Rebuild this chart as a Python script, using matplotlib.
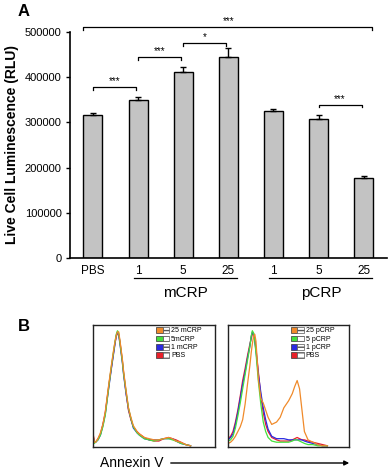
import matplotlib
matplotlib.use("Agg")
import matplotlib.pyplot as plt
from matplotlib.patches import Patch, FancyArrowPatch
from matplotlib.legend_handler import HandlerTuple
import matplotlib.transforms as mtransforms

plt.rcParams['font.family'] = ['Liberation Sans', 'DejaVu Sans']

# Panel A: luminescence bars
tick_labels = ["PBS", "1", "5", "25", "1", "5", "25"]
lum = [317000, 350000, 412000, 445000, 326000, 307000, 176000]
lum_err = [3000, 6000, 10000, 19000, 4000, 10000, 5000]
groups = ["mCRP", "pCRP"]
group_span = [(1, 3), (4, 6)]
# significance brackets: (from bar, to bar, level, label)
brackets = [(0, 1, 378000, "***"), (1, 2, 445000, "***"), (2, 3, 476000, "*"),
            (5, 6, 339000, "***")]
overall = (0, 6, 511000, "***")

# Panel B: Annexin V histograms (percent of box height)
xl = [0, 1, 2, 4, 6, 8, 10, 11, 13, 15, 17, 18, 19, 20, 21, 22, 24, 25, 27, 29,
      31, 33, 36, 38, 42, 46, 50, 54, 58, 62, 65, 68, 72, 76, 80]
left_curves = {
    "PBS": [10, 4, 3, 6, 10, 18, 28, 36, 52, 66, 80, 87, 92, 95, 94, 88, 72, 62, 45, 30,
            22, 16, 12, 10, 7, 5, 4, 4, 6, 7, 6, 5, 3, 1, 0],
    "1 mCRP": [8, 3, 3, 5, 9, 17, 27, 35, 50, 65, 79, 86, 93, 96, 93, 86, 70, 60, 44, 31,
               23, 15, 11, 9, 6, 5, 5, 5, 6, 6, 6, 4, 2, 1, 0],
    "5mCRP": [7, 2, 3, 5, 9, 16, 26, 34, 51, 67, 81, 88, 94, 97, 95, 87, 71, 61, 46, 32,
              23, 16, 11, 9, 6, 5, 4, 5, 6, 6, 5, 4, 2, 1, 0],
    "25 mCRP": [9, 3, 3, 6, 11, 18, 29, 37, 53, 68, 82, 88, 93, 96, 96, 89, 73, 63, 47, 32,
                24, 17, 12, 10, 7, 6, 5, 5, 6, 7, 6, 4, 3, 1, 0],
}
xr = [0, 2, 4, 6, 8, 10, 12, 14, 16, 18, 19, 20, 21, 22, 23, 24, 25, 27, 29, 31,
      33, 36, 40, 43, 46, 50, 53, 55, 57, 59, 61, 63, 66, 70, 74, 78, 82]
right_curves = {
    "PBS": [6, 8, 12, 20, 30, 42, 55, 65, 76, 86, 90, 94, 95, 90, 82, 72, 62, 42, 28, 18,
            12, 7, 5, 4, 4, 4, 5, 6, 7, 6, 5, 5, 4, 3, 2, 1, 0],
    "1 pCRP": [5, 7, 10, 18, 28, 40, 52, 62, 74, 84, 92, 96, 94, 88, 80, 70, 60, 45, 32, 22,
               14, 8, 6, 6, 6, 5, 5, 5, 5, 5, 5, 4, 3, 2, 1, 0, 0],
    "5 pCRP": [4, 5, 8, 15, 25, 36, 48, 60, 72, 84, 92, 97, 95, 88, 78, 66, 54, 35, 20, 12,
               7, 4, 3, 3, 3, 3, 4, 5, 5, 4, 3, 2, 1, 1, 0, 0, 0],
    "25 pCRP": [2, 3, 5, 8, 12, 16, 22, 35, 52, 68, 78, 86, 92, 94, 88, 72, 56, 40, 36, 30,
                24, 18, 20, 24, 32, 38, 44, 50, 55, 48, 30, 12, 5, 3, 1, 0, 0],
}
curve_colors = ["#e8202a", "#2a2ae0", "#44e03c", "#f08a2a"]

fig = plt.figure(figsize=(3.88, 4.70), dpi=100)

# ---------- Panel A ----------
ax = fig.add_axes([0.180, 0.451, 0.817, 0.481])
pos = list(range(len(lum)))
ax.bar(pos, lum, width=0.42, color="#c3c3c3", edgecolor="black", linewidth=1.0)
ax.errorbar(pos, lum, yerr=[[0] * len(lum), lum_err], fmt="none", ecolor="black",
            elinewidth=1.0, capsize=2, capthick=1.0)
ax.set_xlim(-0.51, 6.51)
ax.set_ylim(0, 500000)
ax.set_yticks([0, 100000, 200000, 300000, 400000, 500000])
ax.set_yticklabels(["0", "100000", "200000", "300000", "400000", "500000"], fontsize=8)
ax.set_xticks(pos)
ax.set_xticklabels(tick_labels, fontsize=8.5)
ax.tick_params(axis="x", length=0, pad=5)
ax.tick_params(axis="y", length=3, width=1.0, direction="out", pad=3)
for s in ["top", "right"]:
    ax.spines[s].set_visible(False)
for s in ["left", "bottom"]:
    ax.spines[s].set_linewidth(1.2)
ax.set_ylabel("Live Cell Luminescence (RLU)", fontsize=10, fontweight="bold")
ax.yaxis.set_label_coords(-0.16, 0.5)

tick_h = 6000
for a, b, y, lab in brackets:
    ax.plot([a, a, b - 0.05, b - 0.05], [y - tick_h, y, y, y - tick_h], color="black",
            lw=0.9, clip_on=False)
    ax.text((a + b - 0.05) / 2, y + 2000, lab, ha="center", va="bottom", fontsize=7)
a, b, y, lab = overall
ax.plot([a - 0.21, a - 0.21, b + 0.18, b + 0.18], [y - tick_h, y, y, y - tick_h],
        color="black", lw=0.9, clip_on=False)
ax.text((a + b) / 2, y + 2000, lab, ha="center", va="bottom", fontsize=7)

trans = mtransforms.blended_transform_factory(ax.transData, ax.transAxes)
for name, (g0, g1) in zip(groups, group_span):
    ax.plot([g0 - 0.09, g1 + 0.19], [-0.089, -0.089], color="black", lw=0.9,
            transform=trans, clip_on=False)
    ax.text((g0 + g1 + 0.1) / 2, -0.155, name, ha="center", va="center", fontsize=11,
            transform=trans)

fig.text(0.045, 0.975, "A", fontsize=12, fontweight="bold", ha="left", va="center")

# ---------- Panel B ----------
fig.text(0.045, 0.305, "B", fontsize=12, fontweight="bold", ha="left", va="center")
boxes = [([0.240, 0.049, 0.314, 0.26], xl, left_curves),
         ([0.588, 0.049, 0.312, 0.26], xr, right_curves)]
for rect, xs, curves in boxes:
    bx = fig.add_axes(rect)
    handles = []
    for (name, ys), c in zip(curves.items(), curve_colors):
        bx.plot(xs, ys, color=c, lw=0.9)
        handles.append((Patch(facecolor=c, edgecolor="#333333", lw=0.5),
                        Patch(facecolor="white", edgecolor="#555555", lw=0.5, hatch="---")))
    labels = list(curves.keys())
    bx.legend(handles[::-1], labels[::-1], handler_map={tuple: HandlerTuple(ndivide=None, pad=0)},
              loc="upper left", bbox_to_anchor=(0.52, 0.98), frameon=False, fontsize=5,
              handlelength=1.8, handleheight=0.9, labelspacing=0.15, handletextpad=0.3,
              borderpad=0, borderaxespad=0)
    bx.set_xlim(0, 100)
    bx.set_ylim(-1, 102)
    bx.set_xticks([])
    bx.set_yticks([])
    for s in bx.spines.values():
        s.set_linewidth(1.0)
        s.set_color("#222222")

fig.text(100 / 388, 1 - 463 / 470, "Annexin V", fontsize=10, ha="left", va="center")
fig.add_artist(FancyArrowPatch(
    (168 / 388, 1 - 463 / 470), (352 / 388, 1 - 463 / 470), transform=fig.transFigure,
    arrowstyle="-|>", mutation_scale=7, color="black", lw=1.0))

fig.savefig("out.png", dpi=100)
